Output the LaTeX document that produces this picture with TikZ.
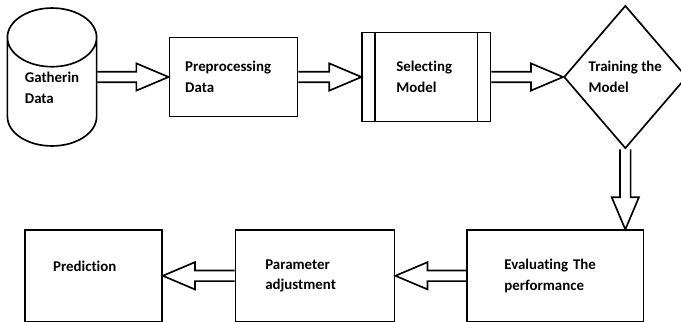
\documentclass[tikz,border=0pt]{standalone}
\usepackage{fontspec}
\setmainfont{Carlito}[Ligatures=NoCommon]
\usetikzlibrary{shapes, positioning, calc}
\tikzstyle{db}=[cylinder, align=left, aspect=0.93, shape border rotate=90, draw=black, line width=1.25pt, minimum width=2.36cm, minimum height=3.28cm]
\tikzstyle{stage}=[rectangle, align=left, draw=black, line width=1.25pt, minimum height=2.09cm]
\tikzstyle{model}=[stage, path picture={
    \draw[line width=1.25pt] ([xshift=0.34cm]path picture bounding box.north west) -- ([xshift=0.34cm]path picture bounding box.south west);
    \draw[line width=1.25pt] ([xshift=-0.34cm]path picture bounding box.north east) -- ([xshift=-0.34cm]path picture bounding box.south east);}]
\tikzstyle{choice}=[diamond, align=left, inner sep=0pt, draw=black, line width=1.25pt, minimum width=3.25cm, minimum height=3.78cm]
\newcommand{\dimg}{\fontsize{11.2}{15.5}\selectfont\bfseries}
% hollow block arrow between two anchors
\newcommand{\blockarrow}[2]{%
  \path (#1) coordinate (ba-s) (#2) coordinate (ba-t);
  \path ($(ba-t)!0.85cm!(ba-s)$) coordinate (ba-h);
  \draw[line width=1.25pt, line join=miter]
    ($(ba-s)!0.14cm!90:(ba-t)$) -- ($(ba-h)!0.14cm!90:(ba-t)$) -- ($(ba-h)!0.36cm!90:(ba-t)$)
    -- (ba-t) -- ($(ba-h)!0.36cm!-90:(ba-t)$) -- ($(ba-h)!0.14cm!-90:(ba-t)$) -- ($(ba-s)!0.14cm!-90:(ba-t)$);
}

\begin{document}
\begin{tikzpicture}[auto]
    \useasboundingbox (-1.376,2.037) rectangle (16.64,-6.456);
    \node [db, anchor = shape center, font = \dimg, text depth = 0.58cm] (gather) at (0,0) {Gatherin\\Data};
    \coordinate (gather-e) at (gather.east |- gather.shape center);
    \node [stage, right = 1.88cm of gather-e, font = \dimg, minimum width = 3.39cm, text width = 2.55cm, inner xsep = 0.42cm] (prep) {Preprocessing\\Data};
    \blockarrow{gather-e}{prep.west}

    \node [model, right = 1.67cm of prep, font = \dimg, minimum width = 3.39cm, minimum height = 2.35cm, text width = 1.59cm, inner xsep = 0.9cm] (select) {Selecting\\Model};
    \blockarrow{prep.east}{select.west}

    \node [choice, right = 1.9cm of select, font = \dimg] (train) {Training the\\Model};
    \blockarrow{select.east}{train.west}

    \node [stage, below = 2.12cm of train, xshift = -1.85cm, font = \dimg, minimum width = 4.66cm, minimum height = 2.41cm, text width = 2.7cm, inner xsep = 0.98cm] (eval) {Evaluating The\\performance};
    \blockarrow{train.south}{train.south |- eval.north}

    \node [stage, left = 1.88cm of eval, font = \dimg, minimum width = 4.21cm, minimum height = 2.41cm, text width = 2.63cm, inner xsep = 0.79cm] (param) {Parameter\\ adjustment};
    \blockarrow{eval.west}{param.east}

    \node [stage, left = 1.9cm of param, font = \dimg, minimum width = 3.62cm, minimum height = 2.41cm, text width = 2.14cm, inner xsep = 0.74cm, text depth = 0.5cm] (pred) {Prediction};
    \blockarrow{param.west}{pred.east}
  \end{tikzpicture}
\end{document}
